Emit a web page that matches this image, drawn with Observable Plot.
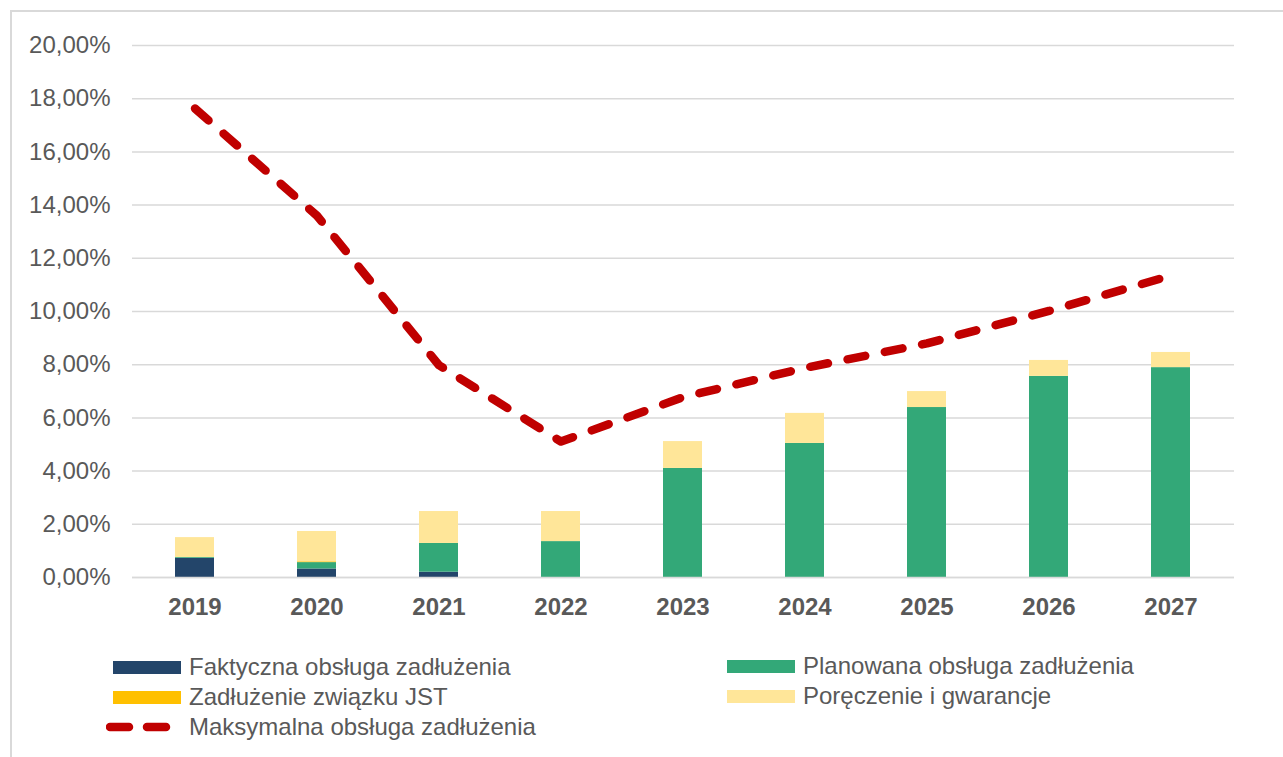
<!DOCTYPE html>
<html>
<head>
<meta charset="utf-8">
<script src="https://cdn.jsdelivr.net/npm/d3@7"></script>
<script src="https://cdn.jsdelivr.net/npm/@observablehq/plot@0.6"></script>
<style>
  html, body { margin: 0; padding: 0; background: #fff; }
  body { width: 1283px; height: 757px; position: relative; overflow: hidden;
         font-family: "Liberation Sans", Arial, sans-serif; }
  #frame { position: absolute; left: 10px; top: 10px; width: 1300px; height: 780px;
           border: 2px solid #d9d9d9; box-sizing: border-box; }
  #chart { position: absolute; left: 0; top: 0; }
  .leg { position: absolute; display: flex; align-items: center; font-size: 24px; color: #595959;
         white-space: nowrap; line-height: 1; }
  .sw { width: 68px; height: 13px; margin-right: 8px; }
</style>
</head>
<body>
<div id="frame"></div>
<div id="chart"></div>
<div id="legend"></div>
<script>
const years = ["2019","2020","2021","2022","2023","2024","2025","2026","2027"];
const seriesNames = ["Faktyczna obsługa zadłużenia","Planowana obsługa zadłużenia","Zadłużenie związku JST","Poręczenie i gwarancje"];
const seriesColors = ["#23456a","#33a878","#ffc000","#ffe699"];
const faktyczna  = [0.72, 0.32, 0.20, 0, 0, 0, 0, 0, 0];
const planowana  = [0.03, 0.24, 1.08, 1.35, 4.10, 5.04, 6.39, 7.56, 7.89];
const zwiazek    = [0, 0.03, 0, 0, 0, 0, 0, 0, 0];
const poreczenie = [0.75, 1.14, 1.20, 1.13, 1.01, 1.13, 0.60, 0.60, 0.57];
const maksymalna = [17.63, 13.60, 7.98, 5.11, 6.78, 7.88, 8.80, 10.02, 11.35];
const lineName = "Maksymalna obsługa zadłużenia";
const yTicks = [0, 2, 4, 6, 8, 10, 12, 14, 16, 18, 20];

const seriesValues = [faktyczna, planowana, zwiazek, poreczenie];
const barData = [];
seriesNames.forEach((s, i) => years.forEach((y, j) => barData.push({year: y, series: s, value: seriesValues[i][j]})));
const lineData = years.map((y, j) => ({year: y, value: maksymalna[j]}));
const fmt = d => d.toFixed(2).replace(".", ",") + "%";

const chart = Plot.plot({
  width: 1283,
  height: 620,
  marginLeft: 132,
  marginRight: 49,
  marginTop: 45,
  marginBottom: 43,
  style: {fontFamily: "'Liberation Sans', Arial, sans-serif", fontSize: "24px", color: "#595959", background: "transparent"},
  x: {domain: years, paddingInner: 0.68, paddingOuter: 0.34, label: null},
  y: {domain: [0, 20], label: null},
  color: {domain: seriesNames, range: seriesColors},
  marks: [
    Plot.gridY(yTicks, {stroke: "#d9d9d9", strokeOpacity: 1, strokeWidth: 1.5}),
    Plot.barY(barData, Plot.stackY({order: seriesNames}, {x: "year", y: "value", fill: "series"})),
    Plot.ruleY([0], {stroke: "#d9d9d9", strokeWidth: 1.5}),
    Plot.lineY(lineData, {x: "year", y: "value", stroke: "#c00000", strokeWidth: 8.5,
      strokeDasharray: "18,20", strokeLinecap: "round", strokeLinejoin: "round"}),
    Plot.axisY(yTicks, {tickSize: 0, tickPadding: 22, tickFormat: fmt, fontSize: 24, fill: "#595959", label: null}),
    Plot.axisX({tickSize: 0, tickPadding: 20, fontSize: 24, fontWeight: "bold", fill: "#595959", label: null})
  ]
});
document.getElementById("chart").appendChild(chart);

// Legend
const legend = document.getElementById("legend");
const items = [
  {name: seriesNames[0], color: seriesColors[0], x: 113, y: 667},
  {name: seriesNames[1], color: seriesColors[1], x: 727, y: 666},
  {name: seriesNames[2], color: seriesColors[2], x: 113, y: 697},
  {name: seriesNames[3], color: seriesColors[3], x: 727, y: 696}
];
items.forEach(it => {
  const d = document.createElement("div");
  d.className = "leg";
  d.style.left = it.x + "px";
  d.style.top = (it.y - 14) + "px";
  d.style.height = "28px";
  d.innerHTML = `<div class="sw" style="background:${it.color}"></div><span>${it.name}</span>`;
  legend.appendChild(d);
});
const dl = document.createElement("div");
dl.className = "leg";
dl.style.left = "106px";
dl.style.top = (727 - 14) + "px";
dl.style.height = "28px";
dl.innerHTML = `<svg width="76" height="28" style="margin-right:7px"><line x1="4" y1="14" x2="72" y2="14" stroke="#c00000" stroke-width="8.5" stroke-linecap="round" stroke-dasharray="19,18"/></svg><span>${lineName}</span>`;
legend.appendChild(dl);
</script>
</body>
</html>
